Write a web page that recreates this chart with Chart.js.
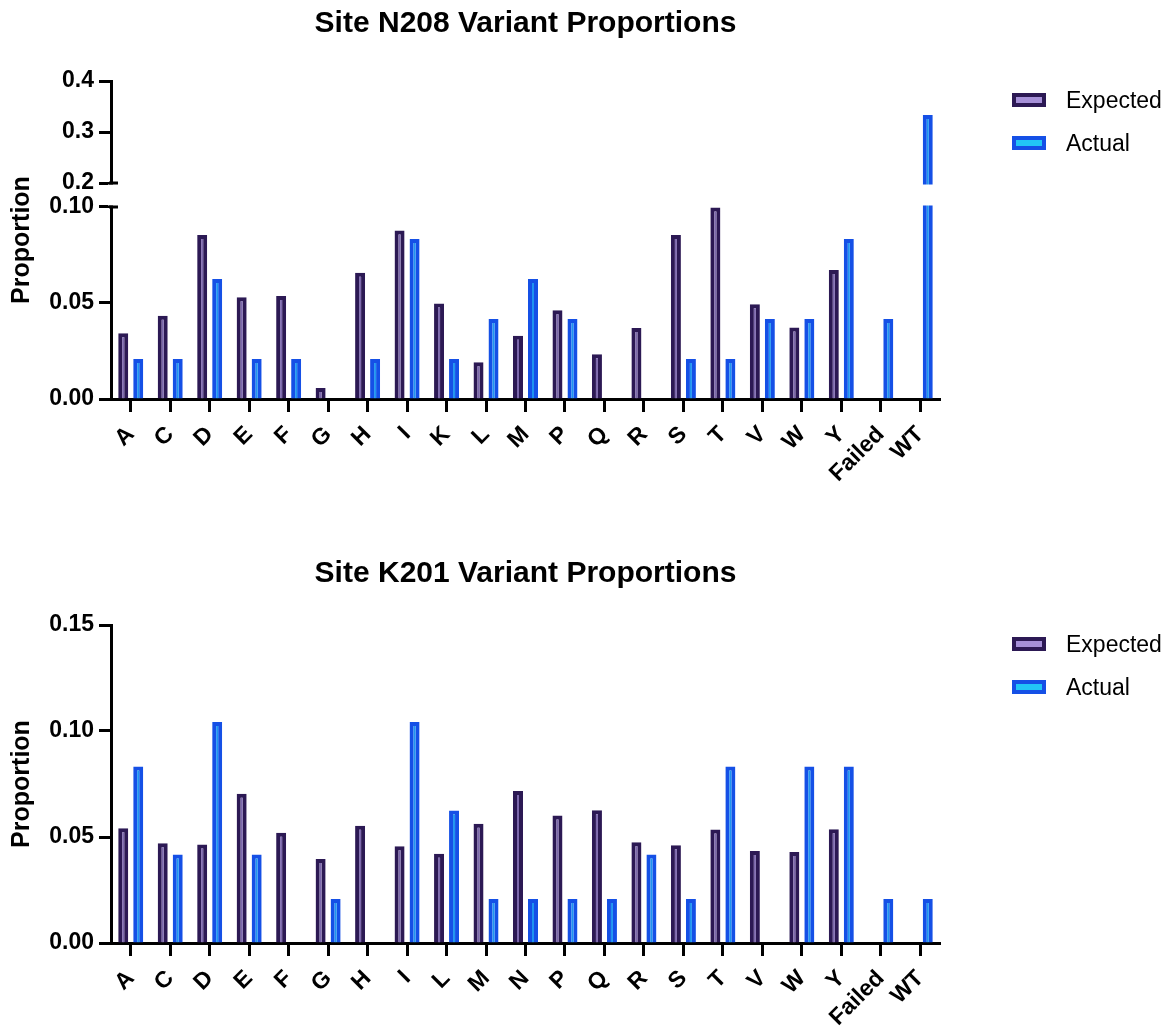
<!DOCTYPE html>
<html>
<head>
<meta charset="utf-8">
<title>Variant Proportions</title>
<script src="https://cdn.jsdelivr.net/npm/chart.js@4/dist/chart.umd.min.js"></script>
<style>
  html, body { margin: 0; padding: 0; background: #ffffff; }
  canvas { display: block; }
</style>
</head>
<body>
<canvas id="n208" width="1175" height="520"></canvas>
<canvas id="k201" width="1175" height="506"></canvas>
<script>
// ---- Site N208 ----
const n208Categories = ['A', 'C', 'D', 'E', 'F', 'G', 'H', 'I', 'K', 'L', 'M', 'P', 'Q', 'R', 'S', 'T', 'V', 'W', 'Y', 'Failed', 'WT'];
const n208Expected = [0.0342, 0.0434, 0.0854, 0.0530, 0.0536, 0.0057, 0.0658, 0.0878, 0.0498, 0.0191, 0.0330, 0.0462, 0.0233, 0.0370, 0.0854, 0.0998, 0.0493, 0.0372, 0.0672, 0, 0];
const n208Actual = [0.0208, 0.0208, 0.0625, 0.0208, 0.0208, 0, 0.0208, 0.0833, 0.0208, 0.0417, 0.0625, 0.0417, 0, 0, 0.0208, 0.0208, 0.0417, 0.0417, 0.0833, 0.0417, 0.3333];
const n208TickValues = [0, 0.05, 0.10, 0.2, 0.3, 0.4];
const n208TickLabels = ['0.00', '0.05', '0.10', '0.2', '0.3', '0.4'];

// ---- Site K201 ----
const k201Categories = ['A', 'C', 'D', 'E', 'F', 'G', 'H', 'I', 'L', 'M', 'N', 'P', 'Q', 'R', 'S', 'T', 'V', 'W', 'Y', 'Failed', 'WT'];
const k201Expected = [0.0541, 0.0470, 0.0465, 0.0704, 0.0520, 0.0396, 0.0553, 0.0456, 0.0421, 0.0563, 0.0717, 0.0602, 0.0626, 0.0475, 0.0461, 0.0535, 0.0434, 0.0429, 0.0536, 0, 0];
const k201Actual = [0.0833, 0.0417, 0.1042, 0.0417, 0, 0.0208, 0, 0.1042, 0.0625, 0.0208, 0.0208, 0.0208, 0.0208, 0.0417, 0.0208, 0.0833, 0, 0.0833, 0.0833, 0.0208, 0.0208];
const k201TickValues = [0, 0.05, 0.10, 0.15];
const k201TickLabels = ['0.00', '0.05', '0.10', '0.15'];

const seriesLabels = ['Expected', 'Actual'];

// ---- styling ----
const FONT = '"Liberation Sans", Arial, Helvetica, sans-serif';
Chart.defaults.font.family = FONT;
Chart.defaults.color = '#000';

const EXPECTED_EDGE = '#2c1954';
const EXPECTED_CORE = '#7c68ac';
const EXPECTED_KEY = '#a690d8';
const ACTUAL_EDGE = '#1550e6';
const ACTUAL_CORE = '#1f94f0';
const ACTUAL_KEY = '#22c6f6';

const Y_AXIS_WIDTH = 108;

// Linear scale with a gap: the lower piece and the upper piece each get
// their own share of the axis height, with an empty band between them.
class BrokenLinearScale extends Chart.LinearScale {
  static id = 'brokenLinear';
  static defaults = Chart.LinearScale.defaults;

  _toDecimal(v) {
    const b = this.options.axisBreak;
    const min = this.min, max = this.max;
    if (v <= b.lowerMax) return (v - min) / (b.lowerMax - min) * b.lowerFrac;
    if (v >= b.upperMin) return b.upperFrac + (v - b.upperMin) / (max - b.upperMin) * (1 - b.upperFrac);
    return b.lowerFrac + (v - b.lowerMax) / (b.upperMin - b.lowerMax) * (b.upperFrac - b.lowerFrac);
  }
  getPixelForValue(value) {
    if (value === null || value === undefined || isNaN(value)) return NaN;
    return this.getPixelForDecimal(this._toDecimal(value));
  }
  getValueForPixel(pixel) {
    const b = this.options.axisBreak;
    const d = this.getDecimalForPixel(pixel);
    const min = this.min, max = this.max;
    if (d <= b.lowerFrac) return min + d / b.lowerFrac * (b.lowerMax - min);
    if (d >= b.upperFrac) return b.upperMin + (d - b.upperFrac) / (1 - b.upperFrac) * (max - b.upperMin);
    return b.lowerMax + (d - b.lowerFrac) / (b.upperFrac - b.lowerFrac) * (b.upperMin - b.lowerMax);
  }
}
Chart.register(BrokenLinearScale);

// Blanks the band between the two pieces of a broken axis and caps both ends.
const axisBreakPlugin = {
  id: 'axisBreak',
  afterDatasetsDraw(chart) {
    const y = chart.scales.y;
    const b = y.options.axisBreak;
    if (!b) return;
    const { ctx, chartArea } = chart;
    const lw = y.options.border.width;
    const yLow = y.getPixelForValue(b.lowerMax);
    const yHigh = y.getPixelForValue(b.upperMin);
    ctx.save();
    ctx.fillStyle = '#ffffff';
    ctx.fillRect(chartArea.left - lw, yHigh + lw / 2, chartArea.right - chartArea.left + lw + 2, yLow - yHigh - lw);
    ctx.strokeStyle = y.options.border.color;
    ctx.lineWidth = lw;
    [yLow, yHigh].forEach(py => {
      ctx.beginPath();
      ctx.moveTo(chartArea.left - 2, py);
      ctx.lineTo(chartArea.left + 7, py);
      ctx.stroke();
    });
    ctx.restore();
  }
};

// Legend drawn to the right of the plot area.
const sideLegend = {
  id: 'sideLegend',
  afterDraw(chart, args, opts) {
    const { ctx, chartArea } = chart;
    ctx.save();
    chart.data.datasets.forEach((ds, i) => {
      const cy = chartArea.top + opts.firstOffset + i * opts.spacing;
      const bx = chartArea.right + opts.boxOffset;
      ctx.fillStyle = ds.keyColor;
      ctx.strokeStyle = ds.borderColor;
      ctx.lineWidth = opts.boxBorder;
      ctx.fillRect(bx, cy - opts.boxHeight / 2, opts.boxWidth, opts.boxHeight);
      ctx.strokeRect(bx, cy - opts.boxHeight / 2, opts.boxWidth, opts.boxHeight);
      ctx.fillStyle = '#000';
      ctx.font = opts.fontSize + 'px ' + FONT;
      ctx.textAlign = 'left';
      ctx.textBaseline = 'middle';
      ctx.fillText(ds.label, chartArea.right + opts.textOffset, cy + 2);
    });
    ctx.restore();
  }
};

function makeDatasets(expected, actual) {
  const common = {
    borderWidth: 4,
    borderSkipped: 'start',
    categoryPercentage: 0.76,
    barPercentage: 0.667
  };
  return [
    Object.assign({ label: seriesLabels[0], data: expected, backgroundColor: EXPECTED_CORE, borderColor: EXPECTED_EDGE, keyColor: EXPECTED_KEY }, common),
    Object.assign({ label: seriesLabels[1], data: actual, backgroundColor: ACTUAL_CORE, borderColor: ACTUAL_EDGE, keyColor: ACTUAL_KEY }, common)
  ];
}

function buildChart(canvasId, title, categories, expected, actual, yScaleExtra, tickValues, tickLabels, frame) {
  const yScale = Object.assign({
    afterBuildTicks: s => { s.ticks = tickValues.map(value => ({ value })); },
    afterFit: s => { s.width = Y_AXIS_WIDTH; },
    border: { display: true, color: '#000', width: 3 },
    grid: { drawOnChartArea: false, drawTicks: true, tickLength: 12, tickWidth: 3, tickColor: '#000' },
    ticks: {
      autoSkip: false,
      padding: 5,
      color: '#000',
      font: { size: 23, weight: 'bold' },
      callback: (v, i) => tickLabels[i]
    },
    title: {
      display: true,
      text: 'Proportion',
      color: '#000',
      font: { size: 25, weight: 'bold' },
      padding: { top: 4, bottom: 0 }
    }
  }, yScaleExtra);

  return new Chart(document.getElementById(canvasId), {
    type: 'bar',
    data: { labels: categories, datasets: makeDatasets(expected, actual) },
    options: {
      responsive: false,
      animation: false,
      layout: { padding: { left: 3, right: 235, top: 0, bottom: 0 } },
      scales: {
        x: {
          type: 'category',
          offset: true,
          afterFit: s => { s.height = frame.xAxisHeight; },
          border: { display: true, color: '#000', width: 3 },
          grid: { offset: false, drawOnChartArea: false, drawTicks: true, tickLength: 13, tickWidth: 3, tickColor: '#000' },
          ticks: {
            autoSkip: false,
            maxRotation: 45,
            minRotation: 45,
            padding: 9,
            color: '#000',
            font: { size: 23, weight: 'bold' }
          }
        },
        y: yScale
      },
      plugins: {
        legend: { display: false },
        tooltip: { enabled: false },
        title: {
          display: true,
          text: title,
          fullSize: false,
          color: '#000',
          font: { size: 30, weight: 'bold' },
          padding: { top: frame.titleTop, bottom: frame.titleBottom }
        },
        sideLegend: {
          firstOffset: 19,
          spacing: 43,
          boxOffset: 74,
          boxWidth: 30,
          boxHeight: 10,
          boxBorder: 4,
          textOffset: 126,
          fontSize: 23
        }
      }
    },
    plugins: [axisBreakPlugin, sideLegend]
  });
}

buildChart(
  'n208', 'Site N208 Variant Proportions',
  n208Categories, n208Expected, n208Actual,
  {
    type: 'brokenLinear',
    min: 0,
    max: 0.4,
    axisBreak: { lowerMax: 0.10, upperMin: 0.2, lowerFrac: 0.6038, upperFrac: 0.6792 }
  },
  n208TickValues, n208TickLabels,
  { titleTop: 5.5, titleBottom: 39.5, xAxisHeight: 121 }
);

buildChart(
  'k201', 'Site K201 Variant Proportions',
  k201Categories, k201Expected, k201Actual,
  { type: 'linear', min: 0, max: 0.15 },
  k201TickValues, k201TickLabels,
  { titleTop: 35.5, titleBottom: 33.5, xAxisHeight: 83 }
);
</script>
</body>
</html>
